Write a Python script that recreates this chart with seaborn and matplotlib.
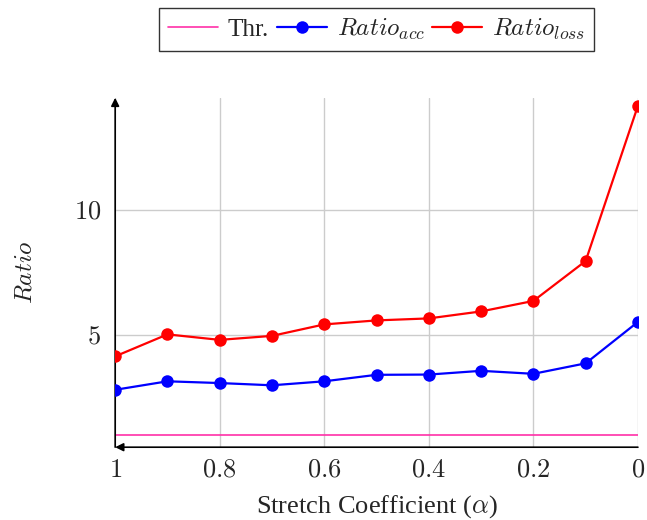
import matplotlib
matplotlib.use("Agg")
import matplotlib.pyplot as plt
import seaborn as sns
import pandas as pd

alpha = [1.0, 0.9, 0.8, 0.7, 0.6, 0.5, 0.4, 0.3, 0.2, 0.1, 0.0]
ratio_acc = [2.80, 3.14, 3.07, 2.98, 3.14, 3.40, 3.41, 3.56, 3.44, 3.86, 5.52]
ratio_loss = [4.14, 5.02, 4.80, 4.96, 5.42, 5.58, 5.66, 5.94, 6.36, 7.96, 14.18]
thr = [1.0] * len(alpha)
x_ticks = [1, 0.8, 0.6, 0.4, 0.2, 0]
x_tick_labels = ["1", "0.8", "0.6", "0.4", "0.2", "0"]
y_ticks = [5, 10]
y_tick_labels = ["5", "10"]

sns.set_style("white")
plt.rcParams["font.family"] = ["Liberation Serif", "DejaVu Serif"]
plt.rcParams["mathtext.fontset"] = "cm"

df = pd.DataFrame({"alpha": alpha, "acc": ratio_acc, "loss": ratio_loss, "thr": thr})

fig = plt.figure(figsize=(6.47, 5.2), dpi=100)
ax = fig.add_axes([0.178, 0.140, 0.808, 0.672])

sns.lineplot(data=df, x="alpha", y="thr", ax=ax, color="#ff30a8", lw=1.2,
             label="Thr.", zorder=3)
sns.lineplot(data=df, x="alpha", y="acc", ax=ax, color="#0000ff", lw=1.6,
             marker="o", markersize=9, markeredgewidth=0, label=r"$Ratio_{acc}$", zorder=4)
sns.lineplot(data=df, x="alpha", y="loss", ax=ax, color="#ff0000", lw=1.6,
             marker="o", markersize=9, markeredgewidth=0, label=r"$Ratio_{loss}$", zorder=4)

ax.set_xlim(1, 0)
ax.set_ylim(0.5, 14.5)
ax.set_xticks(x_ticks)
ax.set_xticklabels(["$" + t + "$" for t in x_tick_labels], fontsize=19)
ax.set_yticks(y_ticks)
ax.set_yticklabels(["$" + t + "$" for t in y_tick_labels], fontsize=19)
ax.grid(True, color="#cccccc", lw=1.0)
ax.tick_params(axis="x", length=4, width=0.8, color="#888888", direction="out", pad=5)
ax.tick_params(axis="y", length=5, width=0.8, color="#888888", direction="out", pad=5)

for s in ax.spines.values():
    s.set_visible(False)

ax.annotate("", xy=(0, 1.0), xytext=(0, 0), xycoords="axes fraction",
            arrowprops=dict(arrowstyle="-|>", color="black", lw=1.2,
                            mutation_scale=12, shrinkA=0, shrinkB=0))
ax.annotate("", xy=(0, 0), xytext=(1, 0), xycoords="axes fraction",
            arrowprops=dict(arrowstyle="-|>", color="black", lw=1.2,
                            mutation_scale=12, shrinkA=0, shrinkB=0))

ax.set_xlabel(r"Stretch Coefficient ($\alpha$)", fontsize=19, labelpad=8)
ax.set_ylabel(r"$Ratio$", fontsize=18, labelpad=27)

leg = ax.legend(loc="upper center", bbox_to_anchor=(0.582, 0.985), bbox_transform=fig.transFigure,
                ncol=3, fontsize=18, frameon=True, fancybox=False, edgecolor="black",
                handlelength=2.0, handletextpad=0.4, columnspacing=0.3, borderpad=0.35,
                borderaxespad=0)
leg.get_frame().set_linewidth(1.0)

fig.savefig("out.png", dpi=100)
